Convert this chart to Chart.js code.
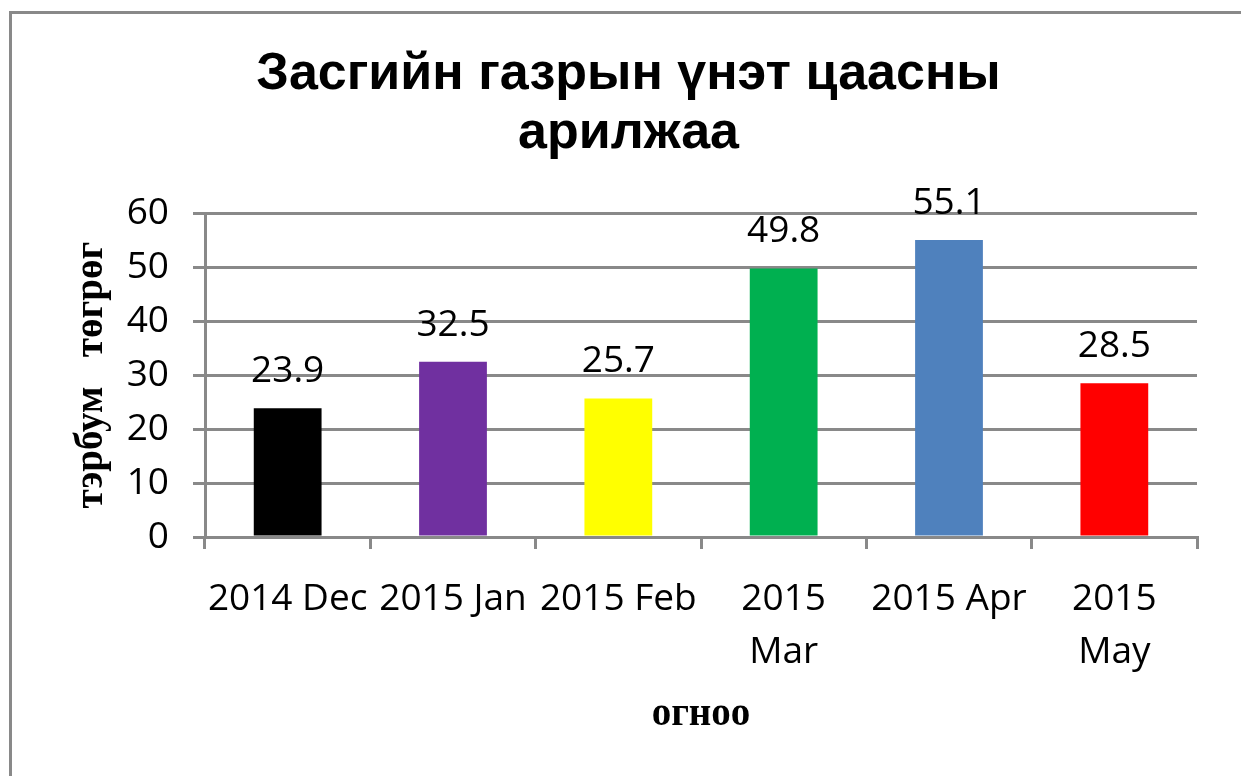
<!DOCTYPE html>
<html>
<head>
<meta charset="utf-8">
<script src="https://cdn.jsdelivr.net/npm/chart.js@4.4.0/dist/chart.umd.min.js"></script>
<style>
  html, body { margin: 0; padding: 0; background: #fff; }
  #wrap { position: absolute; left: 0; top: 0; width: 1241px; height: 776px; }
</style>
</head>
<body>
<div id="wrap"><canvas id="c" width="1241" height="776"></canvas></div>
<script>
const titleLines = ['Засгийн газрын үнэт цаасны', 'арилжаа'];
const categories = ['2014 Dec', '2015 Jan', '2015 Feb', '2015 Mar', '2015 Apr', '2015 May'];
const tickLabels = [['2014 Dec'], ['2015 Jan'], ['2015 Feb'], ['2015', 'Mar'], ['2015 Apr'], ['2015', 'May']];
const values = [23.9, 32.5, 25.7, 49.8, 55.1, 28.5];
const barColors = ['#000000', '#7030A0', '#FFFF00', '#00B050', '#4F81BD', '#FF0000'];
const yTitle = 'тэрбум   төгрөг';
const xTitle = 'огноо';
const yMin = 0, yMax = 60, yStep = 10;

const GRID = '#898989';
const TICKFONT = { family: '"Open Sans", "Noto Sans", sans-serif', size: 37, lineHeight: 1.43 };

const framePlugin = {
  id: 'frame',
  beforeDraw(chart) {
    const ctx = chart.ctx;
    ctx.save();
    ctx.fillStyle = '#ffffff';
    ctx.fillRect(0, 0, chart.width, chart.height);
    ctx.strokeStyle = GRID;
    ctx.lineWidth = 3;
    ctx.strokeRect(10.5, 12.5, 1400, 900);
    ctx.restore();
  }
};

const labelPlugin = {
  id: 'barLabels',
  afterDatasetsDraw(chart) {
    const ctx = chart.ctx;
    const meta = chart.getDatasetMeta(0);
    ctx.save();
    ctx.font = '37px "Open Sans", "Noto Sans", sans-serif';
    ctx.fillStyle = '#000';
    ctx.textAlign = 'center';
    ctx.textBaseline = 'alphabetic';
    meta.data.forEach((bar, i) => {
      ctx.fillText(String(values[i]), bar.x, bar.y - 26);
    });
    ctx.restore();
  }
};

new Chart(document.getElementById('c'), {
  type: 'bar',
  data: {
    labels: categories,
    datasets: [{
      data: values,
      backgroundColor: barColors,
      borderWidth: 0,
      barPercentage: 0.41,
      categoryPercentage: 1
    }]
  },
  options: {
    responsive: false,
    animation: false,
    devicePixelRatio: 1,
    layout: { padding: { left: 60, right: 44, top: 0, bottom: 0 } },
    plugins: {
      legend: { display: false },
      tooltip: { enabled: false },
      title: {
        display: true,
        text: titleLines,
        color: '#000',
        font: { family: '"Liberation Sans", Arial, sans-serif', size: 52, weight: 'bold', lineHeight: 1.12 },
        padding: { top: 46, bottom: 51 }
      }
    },
    scales: {
      x: {
        offset: true,
        grid: { offset: true, drawOnChartArea: false, drawTicks: true, tickLength: 12, color: GRID, lineWidth: 3 },
        border: { display: true, color: GRID, width: 3 },
        ticks: {
          color: '#000',
          font: TICKFONT,
          padding: 24,
          autoSkip: false,
          maxRotation: 0,
          minRotation: 0,
          callback: (v, i) => tickLabels[i]
        },
        title: {
          display: true,
          text: xTitle,
          color: '#000',
          font: { family: '"Liberation Serif", "Times New Roman", serif', size: 39, weight: 'bold', lineHeight: 1.2 },
          padding: { top: 0, bottom: 38 }
        },
        afterFit(s) { s.height = 239; }
      },
      y: {
        min: yMin, max: yMax,
        grid: { color: GRID, lineWidth: 3, tickLength: 12, drawTicks: true },
        border: { display: true, color: GRID, width: 3 },
        ticks: {
          stepSize: yStep,
          color: '#000',
          font: { family: '"Open Sans", "Noto Sans", sans-serif', size: 37, lineHeight: 1.2 },
          padding: 24
        },
        title: {
          display: true,
          text: yTitle,
          color: '#000',
          font: { family: '"Liberation Serif", "Times New Roman", serif', size: 39, weight: 'bold', lineHeight: 1.2 },
          padding: { top: 9, bottom: 0 }
        },
        afterFit(s) { s.width = 145; }
      }
    }
  },
  plugins: [framePlugin, labelPlugin]
});
</script>
</body>
</html>
